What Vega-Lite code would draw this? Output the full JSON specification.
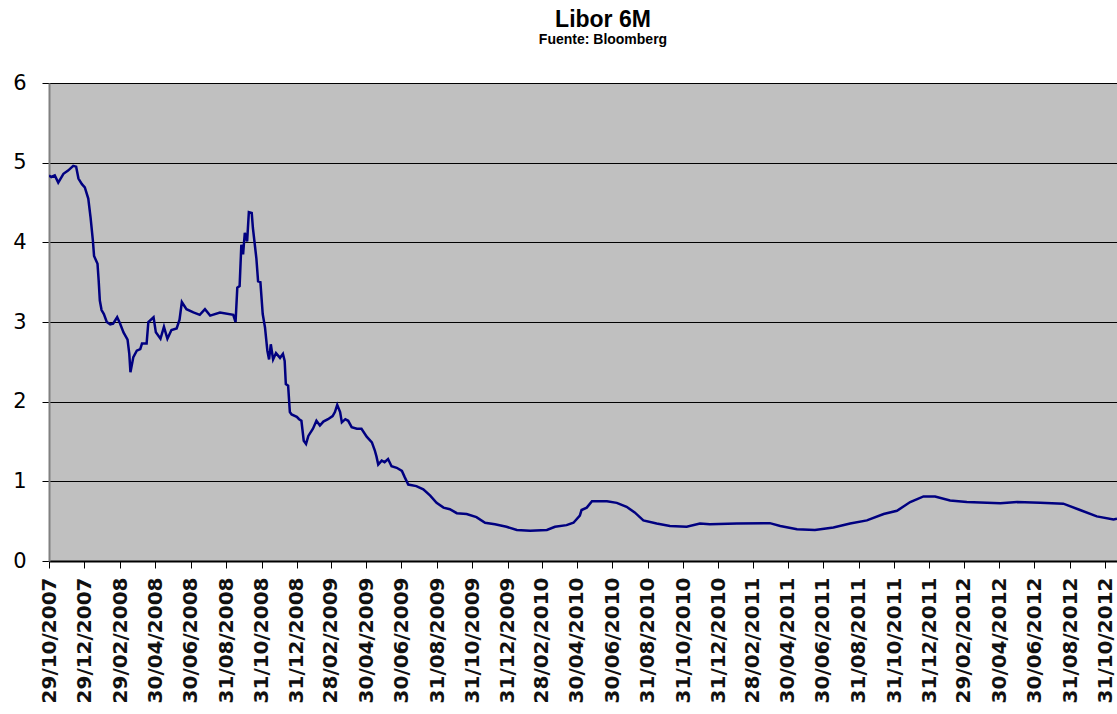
{
 "$schema": "https://vega.github.io/schema/vega-lite/v6.json",
 "width": 1068, "height": 478,
 "autosize": {"type": "none"},
 "padding": {"left": 49, "top": 83, "right": 0, "bottom": 153},
 "background": "white",
 "title": {"text": "Libor 6M", "subtitle": "Fuente: Bloomberg", "anchor": "middle", "frame": "group", "dx": 20, "offset": 25,
   "font": "Liberation Sans", "fontSize": 23, "fontWeight": "bold", "color": "black",
   "subtitleFont": "Liberation Sans", "subtitleFontSize": 14, "subtitleFontWeight": "bold", "subtitleColor": "black", "subtitlePadding": 1},
 "config": {"view": {"fill": "#C0C0C0", "stroke": "#808080", "strokeWidth": 1}},
 "data": {"values": [
  {"date": "2007-10-29", "libor": 4.84},
  {"date": "2007-11-02", "libor": 4.82},
  {"date": "2007-11-08", "libor": 4.84},
  {"date": "2007-11-14", "libor": 4.75},
  {"date": "2007-11-23", "libor": 4.86},
  {"date": "2007-12-01", "libor": 4.90},
  {"date": "2007-12-10", "libor": 4.96},
  {"date": "2007-12-15", "libor": 4.95},
  {"date": "2007-12-19", "libor": 4.80},
  {"date": "2007-12-25", "libor": 4.73},
  {"date": "2007-12-30", "libor": 4.69},
  {"date": "2008-01-05", "libor": 4.55},
  {"date": "2008-01-09", "libor": 4.31},
  {"date": "2008-01-13", "libor": 4.02},
  {"date": "2008-01-15", "libor": 3.83},
  {"date": "2008-01-21", "libor": 3.73},
  {"date": "2008-01-23", "libor": 3.52},
  {"date": "2008-01-25", "libor": 3.27},
  {"date": "2008-01-28", "libor": 3.15},
  {"date": "2008-02-01", "libor": 3.10},
  {"date": "2008-02-06", "libor": 3.00},
  {"date": "2008-02-12", "libor": 2.97},
  {"date": "2008-02-17", "libor": 2.98},
  {"date": "2008-02-24", "libor": 3.06},
  {"date": "2008-02-29", "libor": 2.98},
  {"date": "2008-03-06", "libor": 2.87},
  {"date": "2008-03-13", "libor": 2.78},
  {"date": "2008-03-16", "libor": 2.60},
  {"date": "2008-03-18", "libor": 2.37},
  {"date": "2008-03-23", "libor": 2.56},
  {"date": "2008-03-29", "libor": 2.64},
  {"date": "2008-04-04", "libor": 2.66},
  {"date": "2008-04-07", "libor": 2.73},
  {"date": "2008-04-15", "libor": 2.73},
  {"date": "2008-04-18", "libor": 3.00},
  {"date": "2008-04-27", "libor": 3.06},
  {"date": "2008-05-01", "libor": 2.87},
  {"date": "2008-05-09", "libor": 2.79},
  {"date": "2008-05-15", "libor": 2.94},
  {"date": "2008-05-21", "libor": 2.79},
  {"date": "2008-05-28", "libor": 2.90},
  {"date": "2008-06-06", "libor": 2.92},
  {"date": "2008-06-11", "libor": 3.03},
  {"date": "2008-06-15", "libor": 3.25},
  {"date": "2008-06-23", "libor": 3.16},
  {"date": "2008-07-05", "libor": 3.12},
  {"date": "2008-07-16", "libor": 3.09},
  {"date": "2008-07-25", "libor": 3.16},
  {"date": "2008-08-03", "libor": 3.08},
  {"date": "2008-08-20", "libor": 3.12},
  {"date": "2008-09-12", "libor": 3.09},
  {"date": "2008-09-16", "libor": 3.00},
  {"date": "2008-09-19", "libor": 3.43},
  {"date": "2008-09-23", "libor": 3.45},
  {"date": "2008-09-26", "libor": 3.97},
  {"date": "2008-09-29", "libor": 3.85},
  {"date": "2008-10-02", "libor": 4.12},
  {"date": "2008-10-06", "libor": 4.01},
  {"date": "2008-10-09", "libor": 4.38},
  {"date": "2008-10-14", "libor": 4.37},
  {"date": "2008-10-16", "libor": 4.18},
  {"date": "2008-10-22", "libor": 3.80},
  {"date": "2008-10-25", "libor": 3.51},
  {"date": "2008-10-29", "libor": 3.50},
  {"date": "2008-11-02", "libor": 3.10},
  {"date": "2008-11-06", "libor": 2.93},
  {"date": "2008-11-10", "libor": 2.64},
  {"date": "2008-11-13", "libor": 2.53},
  {"date": "2008-11-16", "libor": 2.72},
  {"date": "2008-11-20", "libor": 2.53},
  {"date": "2008-11-25", "libor": 2.61},
  {"date": "2008-12-02", "libor": 2.55},
  {"date": "2008-12-07", "libor": 2.60},
  {"date": "2008-12-10", "libor": 2.51},
  {"date": "2008-12-12", "libor": 2.22},
  {"date": "2008-12-16", "libor": 2.20},
  {"date": "2008-12-19", "libor": 1.87},
  {"date": "2008-12-22", "libor": 1.84},
  {"date": "2008-12-31", "libor": 1.81},
  {"date": "2009-01-04", "libor": 1.78},
  {"date": "2009-01-08", "libor": 1.76},
  {"date": "2009-01-12", "libor": 1.51},
  {"date": "2009-01-16", "libor": 1.47},
  {"date": "2009-01-20", "libor": 1.57},
  {"date": "2009-01-28", "libor": 1.66},
  {"date": "2009-02-03", "libor": 1.76},
  {"date": "2009-02-09", "libor": 1.70},
  {"date": "2009-02-15", "libor": 1.75},
  {"date": "2009-02-23", "libor": 1.78},
  {"date": "2009-03-03", "libor": 1.82},
  {"date": "2009-03-07", "libor": 1.87},
  {"date": "2009-03-11", "libor": 1.96},
  {"date": "2009-03-16", "libor": 1.87},
  {"date": "2009-03-19", "libor": 1.74},
  {"date": "2009-03-25", "libor": 1.78},
  {"date": "2009-03-30", "libor": 1.76},
  {"date": "2009-04-05", "libor": 1.68},
  {"date": "2009-04-14", "libor": 1.66},
  {"date": "2009-04-22", "libor": 1.66},
  {"date": "2009-05-01", "libor": 1.56},
  {"date": "2009-05-10", "libor": 1.49},
  {"date": "2009-05-15", "libor": 1.39},
  {"date": "2009-05-18", "libor": 1.31},
  {"date": "2009-05-21", "libor": 1.21},
  {"date": "2009-05-27", "libor": 1.26},
  {"date": "2009-06-01", "libor": 1.24},
  {"date": "2009-06-07", "libor": 1.28},
  {"date": "2009-06-13", "libor": 1.19},
  {"date": "2009-06-22", "libor": 1.17},
  {"date": "2009-07-01", "libor": 1.13},
  {"date": "2009-07-06", "libor": 1.05},
  {"date": "2009-07-12", "libor": 0.96},
  {"date": "2009-07-26", "libor": 0.94},
  {"date": "2009-08-07", "libor": 0.90},
  {"date": "2009-08-19", "libor": 0.82},
  {"date": "2009-08-30", "libor": 0.73},
  {"date": "2009-09-11", "libor": 0.67},
  {"date": "2009-09-22", "libor": 0.65},
  {"date": "2009-10-04", "libor": 0.60},
  {"date": "2009-10-21", "libor": 0.59},
  {"date": "2009-11-07", "libor": 0.55},
  {"date": "2009-11-22", "libor": 0.48},
  {"date": "2009-12-09", "libor": 0.46},
  {"date": "2009-12-29", "libor": 0.43},
  {"date": "2010-01-16", "libor": 0.39},
  {"date": "2010-02-08", "libor": 0.38},
  {"date": "2010-03-09", "libor": 0.39},
  {"date": "2010-03-23", "libor": 0.43},
  {"date": "2010-04-12", "libor": 0.45},
  {"date": "2010-04-24", "libor": 0.48},
  {"date": "2010-05-05", "libor": 0.57},
  {"date": "2010-05-08", "libor": 0.64},
  {"date": "2010-05-17", "libor": 0.67},
  {"date": "2010-05-26", "libor": 0.75},
  {"date": "2010-06-21", "libor": 0.75},
  {"date": "2010-07-08", "libor": 0.73},
  {"date": "2010-07-25", "libor": 0.68},
  {"date": "2010-08-08", "libor": 0.61},
  {"date": "2010-08-23", "libor": 0.51},
  {"date": "2010-09-15", "libor": 0.47},
  {"date": "2010-10-08", "libor": 0.44},
  {"date": "2010-11-06", "libor": 0.43},
  {"date": "2010-11-29", "libor": 0.47},
  {"date": "2010-12-16", "libor": 0.46},
  {"date": "2011-02-01", "libor": 0.47},
  {"date": "2011-03-30", "libor": 0.475},
  {"date": "2011-04-17", "libor": 0.44},
  {"date": "2011-05-16", "libor": 0.40},
  {"date": "2011-06-16", "libor": 0.39},
  {"date": "2011-07-18", "libor": 0.42},
  {"date": "2011-08-16", "libor": 0.47},
  {"date": "2011-09-14", "libor": 0.51},
  {"date": "2011-10-13", "libor": 0.59},
  {"date": "2011-11-05", "libor": 0.63},
  {"date": "2011-11-28", "libor": 0.74},
  {"date": "2011-12-21", "libor": 0.81},
  {"date": "2012-01-10", "libor": 0.81},
  {"date": "2012-02-05", "libor": 0.76},
  {"date": "2012-03-05", "libor": 0.74},
  {"date": "2012-05-02", "libor": 0.725},
  {"date": "2012-05-31", "libor": 0.74},
  {"date": "2012-07-10", "libor": 0.73},
  {"date": "2012-08-19", "libor": 0.72},
  {"date": "2012-09-17", "libor": 0.64},
  {"date": "2012-10-16", "libor": 0.56},
  {"date": "2012-11-14", "libor": 0.52},
  {"date": "2012-11-20", "libor": 0.53}
 ]},
 "mark": {"type": "line", "color": "#000080", "strokeWidth": 2.5, "clip": true},
 "encoding": {
  "x": {"field": "date", "type": "temporal",
    "scale": {"type": "utc", "domain": [{"year": 2007, "month": 10, "date": 29, "utc": true}, {"year": 2012, "month": 11, "date": 20, "utc": true}]},
    "axis": {"title": null, "format": "%d/%m/%Y", "labelAngle": -90, "labelFont": "DejaVu Sans", "labelFontSize": 20, "labelFontWeight": "bold", "labelColor": "#111111",
      "tickColor": "black", "tickSize": 7, "labelPadding": 9, "domainColor": "black", "domainWidth": 2, "grid": false, "labelOverlap": false, "labelBound": false, "labelFlush": false,
      "values": [
        {"year": 2007, "month": 10, "date": 29, "utc": true},
        {"year": 2007, "month": 12, "date": 29, "utc": true},
        {"year": 2008, "month": 2, "date": 29, "utc": true},
        {"year": 2008, "month": 4, "date": 30, "utc": true},
        {"year": 2008, "month": 6, "date": 30, "utc": true},
        {"year": 2008, "month": 8, "date": 31, "utc": true},
        {"year": 2008, "month": 10, "date": 31, "utc": true},
        {"year": 2008, "month": 12, "date": 31, "utc": true},
        {"year": 2009, "month": 2, "date": 28, "utc": true},
        {"year": 2009, "month": 4, "date": 30, "utc": true},
        {"year": 2009, "month": 6, "date": 30, "utc": true},
        {"year": 2009, "month": 8, "date": 31, "utc": true},
        {"year": 2009, "month": 10, "date": 31, "utc": true},
        {"year": 2009, "month": 12, "date": 31, "utc": true},
        {"year": 2010, "month": 2, "date": 28, "utc": true},
        {"year": 2010, "month": 4, "date": 30, "utc": true},
        {"year": 2010, "month": 6, "date": 30, "utc": true},
        {"year": 2010, "month": 8, "date": 31, "utc": true},
        {"year": 2010, "month": 10, "date": 31, "utc": true},
        {"year": 2010, "month": 12, "date": 31, "utc": true},
        {"year": 2011, "month": 2, "date": 28, "utc": true},
        {"year": 2011, "month": 4, "date": 30, "utc": true},
        {"year": 2011, "month": 6, "date": 30, "utc": true},
        {"year": 2011, "month": 8, "date": 31, "utc": true},
        {"year": 2011, "month": 10, "date": 31, "utc": true},
        {"year": 2011, "month": 12, "date": 31, "utc": true},
        {"year": 2012, "month": 2, "date": 29, "utc": true},
        {"year": 2012, "month": 4, "date": 30, "utc": true},
        {"year": 2012, "month": 6, "date": 30, "utc": true},
        {"year": 2012, "month": 8, "date": 31, "utc": true},
        {"year": 2012, "month": 10, "date": 31, "utc": true}
      ]}},
  "y": {"field": "libor", "type": "quantitative", "scale": {"domain": [0, 6], "nice": false, "zero": true},
    "axis": {"title": null, "values": [0, 1, 2, 3, 4, 5, 6], "labelFont": "DejaVu Sans", "labelFontSize": 21, "labelColor": "black", "labelPadding": 16,
      "tickColor": "black", "tickSize": 7, "domainColor": "#808080", "domainWidth": 2, "grid": true, "gridColor": "black", "gridWidth": 1, "gridOpacity": 1, "labelFlush": false, "labelBound": false, "labelOverlap": false}}
 }
}
